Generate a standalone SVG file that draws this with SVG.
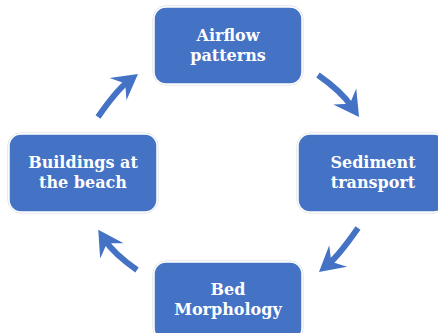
<svg xmlns="http://www.w3.org/2000/svg" width="438" height="333" viewBox="0 0 438 333">
<defs>
<style>
.box{fill:#4472C4;stroke:#ffffff;stroke-width:1.5}
.halo{fill:none;stroke:#d3d7de;stroke-width:1}
.lbl{font-family:"DejaVu Serif","Liberation Serif",serif;font-weight:bold;font-size:16px;fill:#ffffff;text-anchor:middle}
.arr{fill:none;stroke:#4472C4;stroke-width:6;stroke-linecap:butt}
</style>
<marker id="ah" markerUnits="userSpaceOnUse" viewBox="-26 -15 28 30" refX="-12" refY="0" markerWidth="28" markerHeight="30" orient="auto">
<path d="M0,0 L-25,-14 L-16,0 L-25,14 Z" fill="#4472C4"/>
</marker>
</defs>
<g id="connectors">
<path class="arr" d="M318,75 Q341,91 352.2,107.1" marker-end="url(#ah)"/>
<path class="arr" d="M358,228 Q339,255.3 328.2,264.3" marker-end="url(#ah)"/>
<path class="arr" d="M137,270 Q114,254 104.8,239.9" marker-end="url(#ah)"/>
<path class="arr" d="M98,117 Q116.9,89.9 128.4,81.2" marker-end="url(#ah)"/>
</g>
<g id="airflow">
<rect class="halo" x="153" y="6" width="150" height="79" rx="13"/>
<rect class="box" x="154" y="7" width="148" height="77" rx="12"/>
<text class="lbl" x="228" y="41">Airflow</text>
<text class="lbl" x="228" y="61">patterns</text>
</g>
<g id="sediment">
<rect class="halo" x="297" y="133" width="150" height="80" rx="13"/>
<rect class="box" x="298" y="134" width="148" height="78" rx="12"/>
<text class="lbl" x="373" y="168">Sediment</text>
<text class="lbl" x="373" y="188">transport</text>
</g>
<g id="bed">
<rect class="halo" x="153" y="261" width="150" height="80" rx="13"/>
<rect class="box" x="154" y="262" width="148" height="78" rx="12"/>
<text class="lbl" x="228" y="295">Bed</text>
<text class="lbl" x="228" y="315">Morphology</text>
</g>
<g id="buildings">
<rect class="halo" x="8" y="133" width="150" height="80" rx="13"/>
<rect class="box" x="9" y="134" width="148" height="78" rx="12"/>
<text class="lbl" x="83" y="168">Buildings at</text>
<text class="lbl" x="83" y="188">the beach</text>
</g>
</svg>
